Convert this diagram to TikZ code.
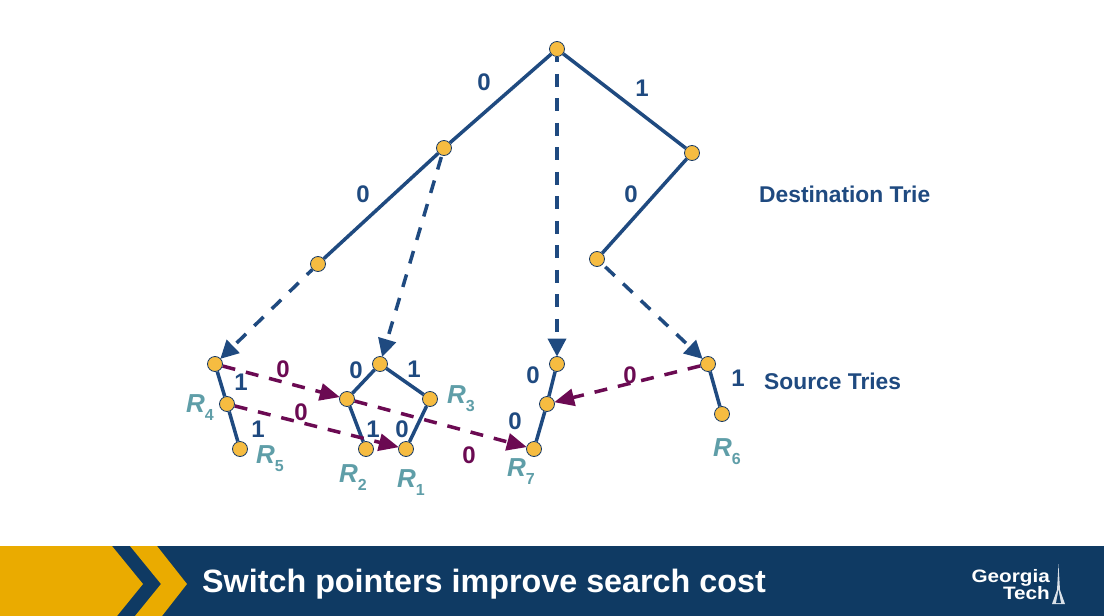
\documentclass[tikz,border=0pt]{standalone}
\usepackage{fontspec}
\setmainfont{Liberation Sans}
\usetikzlibrary{arrows.meta,backgrounds}
\definecolor{navy}{HTML}{1F4A80}
\definecolor{nodegold}{HTML}{F6BC41}
\definecolor{plum}{HTML}{6B0A52}
\definecolor{teal2}{HTML}{5F9EA8}
\definecolor{bandnavy}{HTML}{0F3A63}
\definecolor{bandgold}{HTML}{EAAB00}
\tikzset{
  trienode/.style={circle,draw=navy!80!black,line width=0.8pt,fill=nodegold,minimum size=15pt,inner sep=0pt},
  solidedge/.style={draw=navy,line width=3.5pt},
  destptr/.style={draw=navy,line width=3.5pt,dash pattern=on 13pt off 11.5pt,-{Triangle[length=18pt,width=18pt]},shorten >=-0.5pt},
  srcptr/.style={draw=plum,line width=3.5pt,dash pattern=on 13pt off 11pt,-{Triangle[length=20pt,width=17pt]},shorten >=-0.5pt},
  bitlabel/.style={text=navy,font=\bfseries\fontsize{24}{24}\selectfont,inner sep=0pt},
  ptrlabel/.style={text=plum,font=\bfseries\fontsize{24}{24}\selectfont,inner sep=0pt},
  rlabel/.style={text=teal2,font=\bfseries\itshape\fontsize{26}{26}\selectfont,inner sep=0pt},
  caption/.style={text=navy,font=\bfseries\fontsize{22.8}{23}\selectfont,inner sep=0pt,anchor=west},
  logotext/.style={inner sep=0pt,anchor=base east,text=white,xscale=1.15,font=\bfseries\fontsize{18}{18}\selectfont},
}
\newcommand{\Rsub}[1]{R\raisebox{-8pt}{\hspace{0pt}\fontsize{16}{16}\selectfont\bfseries\upshape #1}}
\begin{document}
\begin{tikzpicture}[x=1pt,y=-1pt]
\useasboundingbox (0,0) rectangle (1104,616);
% destination trie nodes
\node[trienode] (root) at (557,49) {};
\node[trienode] (d0) at (444,148) {};
\node[trienode] (d00) at (318,264) {};
\node[trienode] (d1) at (692,153) {};
\node[trienode] (d10) at (597,259) {};
% source tries
\node[trienode] (a1) at (215,364) {};
\node[trienode] (a2) at (227,404) {};
\node[trienode] (a3) at (240,449) {};
\node[trienode] (b1) at (380,364) {};
\node[trienode] (b2) at (347,399) {};
\node[trienode] (b3) at (366,449) {};
\node[trienode] (b4) at (430,399) {};
\node[trienode] (b5) at (406,449) {};
\node[trienode] (c1) at (557,364) {};
\node[trienode] (c2) at (547,404) {};
\node[trienode] (c3) at (534,449) {};
\node[trienode] (e1) at (708,364) {};
\node[trienode] (e2) at (722,414) {};
\begin{pgfonlayer}{background}
\fill[white] (0,0) rectangle (1104,616);
\draw[solidedge] (root) -- (d0);
\draw[solidedge] (d0) -- (d00);
\draw[solidedge] (root) -- (d1);
\draw[solidedge] (d1) -- (d10);
\draw[solidedge] (a1) -- (a2);
\draw[solidedge] (a2) -- (a3);
\draw[solidedge] (b1) -- (b2);
\draw[solidedge] (b2) -- (b3);
\draw[solidedge] (b1) -- (b4);
\draw[solidedge] (b4) -- (b5);
\draw[solidedge] (c1) -- (c2);
\draw[solidedge] (c2) -- (c3);
\draw[solidedge] (e1) -- (e2);
\draw[destptr,dash phase=5.5pt] (d00) -- (a1);
\draw[destptr,dash phase=23pt] (d0) -- (b1);
\draw[destptr,dash phase=7.5pt] (root) -- (c1);
\draw[destptr,dash phase=21pt] (d10) -- (e1);
\draw[srcptr] (a1) -- (b2);
\draw[srcptr] (b2) -- (c3);
\draw[srcptr] (a2) -- (b5);
\draw[srcptr] (e1) -- (c2);
\end{pgfonlayer}
% bit labels
\node[bitlabel] (l1) at (484,82) {0};
\node[bitlabel] (l2) at (642,88) {1};
\node[bitlabel] (l3) at (363,194) {0};
\node[bitlabel] (l4) at (631,194) {0};
\node[bitlabel] (l5) at (241,382) {1};
\node[bitlabel] (l6) at (258,429) {1};
\node[bitlabel] (l7) at (356,370) {0};
\node[bitlabel] (l8) at (414,369) {1};
\node[bitlabel] (l9) at (373,429) {1};
\node[bitlabel] (l10) at (402,429) {0};
\node[bitlabel] (l11) at (533,375) {0};
\node[bitlabel] (l12) at (515,421) {0};
\node[bitlabel] (l13) at (738,378) {1};
% pointer labels
\node[ptrlabel] (p1) at (283,369) {0};
\node[ptrlabel] (p2) at (301,412) {0};
\node[ptrlabel] (p3) at (469,455) {0};
\node[ptrlabel] (p4) at (630,375) {0};
% route labels
\node[rlabel,anchor=base west] (r4) at (186,412) {\Rsub{4}};
\node[rlabel,anchor=base west] (r5) at (256,463) {\Rsub{5}};
\node[rlabel,anchor=base west] (r3) at (447,403) {\Rsub{3}};
\node[rlabel,anchor=base west] (r2) at (339,482) {\Rsub{2}};
\node[rlabel,anchor=base west] (r1) at (397,487) {\Rsub{1}};
\node[rlabel,anchor=base west] (r7) at (507,476) {\Rsub{7}};
\node[rlabel,anchor=base west] (r6) at (713,456) {\Rsub{6}};
% captions
\node[caption] (dt) at (759,194) {Destination Trie};
\node[caption] (st) at (764,381) {Source Tries};
% footer band
\fill[bandnavy] (0,546) rectangle (1104,616);
\fill[bandgold] (0,546) -- (112,546) -- (143,584) -- (117,616) -- (0,616) -- cycle;
\fill[bandgold] (130,546) -- (157,546) -- (187,584) -- (162,616) -- (135,616) -- (161,584) -- cycle;
\node[inner sep=0pt,anchor=base west,text=white,font=\bfseries\fontsize{32.3}{33}\selectfont] (title) at (202,592) {Switch pointers improve search cost};
% logo
\node[logotext] (geo) at (1050,582) {Georgia};
\node[logotext] (tech) at (1050,599) {Tech};
\fill[white!85!bandnavy] (1058.5,564) -- (1060,590) -- (1065,604) -- (1052,604) -- (1057,590) -- cycle;
\fill[bandnavy] (1058.5,590) -- (1061,603) -- (1056,603) -- cycle;
\end{tikzpicture}
\end{document}
